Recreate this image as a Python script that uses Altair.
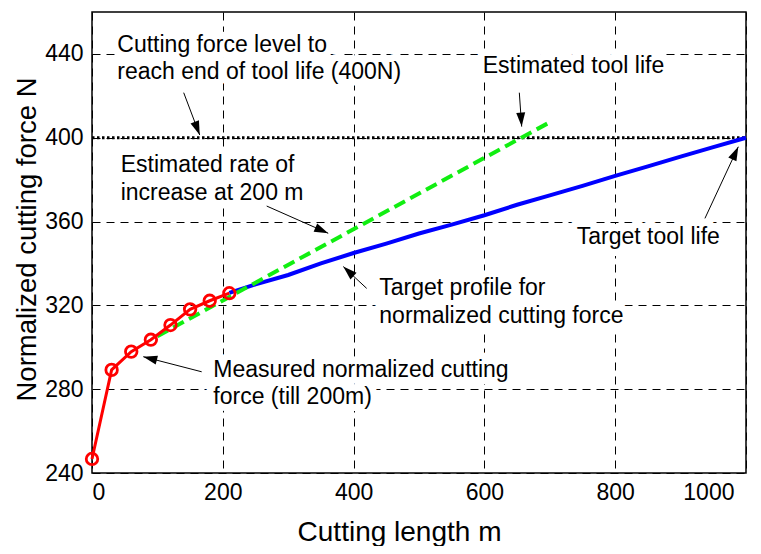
import math
import altair as alt
import pandas as pd

# ---------------- data ----------------
meas_x = [0, 30, 60, 90, 120, 150, 180, 210]
meas_y = [246.7, 289.2, 297.9, 303.6, 310.6, 318.1, 322.2, 325.8]

target_x = [210, 250, 300, 350, 400, 450, 500, 550, 600, 650, 700, 750, 800, 850, 900, 950, 1000]
target_y = [326.0, 330.0, 334.5, 340.0, 345.0, 349.5, 354.3, 358.5, 363.0, 368.0, 372.5,
            377.0, 381.8, 386.3, 391.0, 395.5, 400.0]

rate_x = [100, 700]
rate_y = [305.3, 407.4]

limit_x = [0, 1000]
limit_y = [400, 400]

x_ticks = [0, 200, 400, 600, 800, 1000]
y_ticks = [240, 280, 320, 360, 400, 440]

note_text = [
    "Cutting force level to\nreach end of tool life (400N)",
    "Estimated tool life",
    "Estimated rate of\nincrease at 200 m",
    "Target tool life",
    "Target profile for\nnormalized cutting force",
    "Measured normalized cutting\nforce (till 200m)",
]
note_x = [38.7, 597.4, 43.8, 741.1, 439.3, 185.5]
note_y = [441.1, 430.7, 383.5, 349.3, 324.9, 286.0]

arrow_tail_x = [140.2, 653.4, 267.1, 937.2, 420.0, 167.7]
arrow_tail_y = [421.5, 421.5, 367.4, 361.5, 328.1, 288.3]
arrow_head_x = [164.7, 657.0, 361.2, 988.2, 384.2, 78.4]
arrow_head_y = [401.3, 405.3, 354.4, 395.7, 338.5, 295.5]

# ---------------- layout ----------------
W, H = 654, 461
X_DOM = [0, 1000]
Y_DOM = [240, 460]
KX = W / (X_DOM[1] - X_DOM[0])
KY = H / (Y_DOM[1] - Y_DOM[0])
FONT = "Liberation Sans"
HEAD_LEN = 14.0
NOTE_SIZE = 23

# arrow heads: rotate a narrow triangle along each arrow, tip on the head point
heads = []
for tx, ty, hx, hy in zip(arrow_tail_x, arrow_tail_y, arrow_head_x, arrow_head_y):
    dxp = (hx - tx) * KX
    dyp = -(hy - ty) * KY
    n = math.hypot(dxp, dyp)
    ux, uy = dxp / n, dyp / n
    ang = math.degrees(math.atan2(ux, -uy)) % 360
    cx = hx - ux * (HEAD_LEN / 2) / KX
    cy = hy + uy * (HEAD_LEN / 2) / KY
    heads.append({"x": cx, "y": cy, "angle": ang})

meas_df = pd.DataFrame({"x": meas_x, "y": meas_y})
target_df = pd.DataFrame({"x": target_x, "y": target_y})
rate_df = pd.DataFrame({"x": rate_x, "y": rate_y})
limit_df = pd.DataFrame({"x": limit_x, "y": limit_y})
note_df = pd.DataFrame({"x": note_x, "y": note_y, "label": note_text})
arrow_df = pd.DataFrame({"x": arrow_tail_x, "y": arrow_tail_y,
                         "x2": arrow_head_x, "y2": arrow_head_y})
head_df = pd.DataFrame(heads)

xs = alt.Scale(domain=X_DOM, nice=False, zero=False)
ys = alt.Scale(domain=Y_DOM, nice=False, zero=False)

x_axis = alt.Axis(
    values=x_ticks, format="d", title="Cutting length m", grid=True, gridDash=[8, 6],
    gridColor="black", gridOpacity=1, gridWidth=1, tickSize=0, domain=False,
    labelFont=FONT, labelFontSize=23, labelColor="black", labelPadding=8,
    labelOffset={"condition": {"test": "datum.value == 1000", "value": -12}, "value": 0},
    titleFont=FONT, titleFontSize=28, titleFontWeight="normal", titleColor="black",
    titleX=307, titleY=67, titleAlign="center", titleBaseline="alphabetic",
)
y_axis = alt.Axis(
    values=y_ticks, format="d", title="Normalized cutting force N", grid=True, gridDash=[8, 6],
    gridColor="black", gridOpacity=1, gridWidth=1, tickSize=0, domain=False,
    labelFont=FONT, labelFontSize=23, labelColor="black", labelPadding=9,
    titleFont=FONT, titleFontSize=27.5, titleFontWeight="normal", titleColor="black",
    titleAngle=270, titleX=-57, titleY=227, titleAlign="center", titleBaseline="alphabetic",
)
X = alt.X("x:Q", scale=xs, axis=x_axis)
Y = alt.Y("y:Q", scale=ys, axis=y_axis)

halo = alt.Chart(note_df).mark_text(
    align="left", baseline="alphabetic", font=FONT, fontSize=NOTE_SIZE, lineHeight=27.5,
    lineBreak="\n", color="white", stroke="white", strokeWidth=14, strokeJoin="round",
).encode(x=X, y=Y, text="label:N")

limit = alt.Chart(limit_df).mark_line(
    color="black", strokeWidth=3, strokeDash=[2.5, 2.5]
).encode(x=X, y=Y)

target = alt.Chart(target_df).mark_line(
    color="#0000ff", strokeWidth=4
).encode(x=X, y=Y)

rate = alt.Chart(rate_df).mark_line(
    color="#11ee11", strokeWidth=4, strokeDash=[12, 6]
).encode(x=X, y=Y)

meas_line = alt.Chart(meas_df).mark_line(
    color="#ff0000", strokeWidth=3
).encode(x=X, y=Y)

meas_pts = alt.Chart(meas_df).mark_point(
    shape="circle", filled=False, color="#ff0000", strokeWidth=2.8, size=132, opacity=1
).encode(x=X, y=Y)

arrows = alt.Chart(arrow_df).mark_rule(color="black", strokeWidth=1).encode(
    x=X, y=Y, x2="x2:Q", y2="y2:Q"
)

arrow_heads = alt.Chart(head_df).mark_point(
    shape="M0,-1L0.64,1L-0.64,1Z", filled=True, color="black", size=HEAD_LEN ** 2, opacity=1
).encode(x=X, y=Y, angle=alt.Angle("angle:Q", scale=None))

notes = alt.Chart(note_df).mark_text(
    align="left", baseline="alphabetic", font=FONT, fontSize=NOTE_SIZE, lineHeight=27.5,
    lineBreak="\n", color="black",
).encode(x=X, y=Y, text="label:N")

chart = alt.layer(
    halo, limit, target, rate, meas_line, meas_pts, arrows, arrow_heads, notes
).properties(
    width=W, height=H, autosize="none",
    padding={"left": 84, "top": 4, "right": 6, "bottom": 73},
    background="white",
).configure_view(stroke="black", strokeWidth=1.5)

chart.save("out.html", embed_options={"renderer": "svg", "actions": False})
